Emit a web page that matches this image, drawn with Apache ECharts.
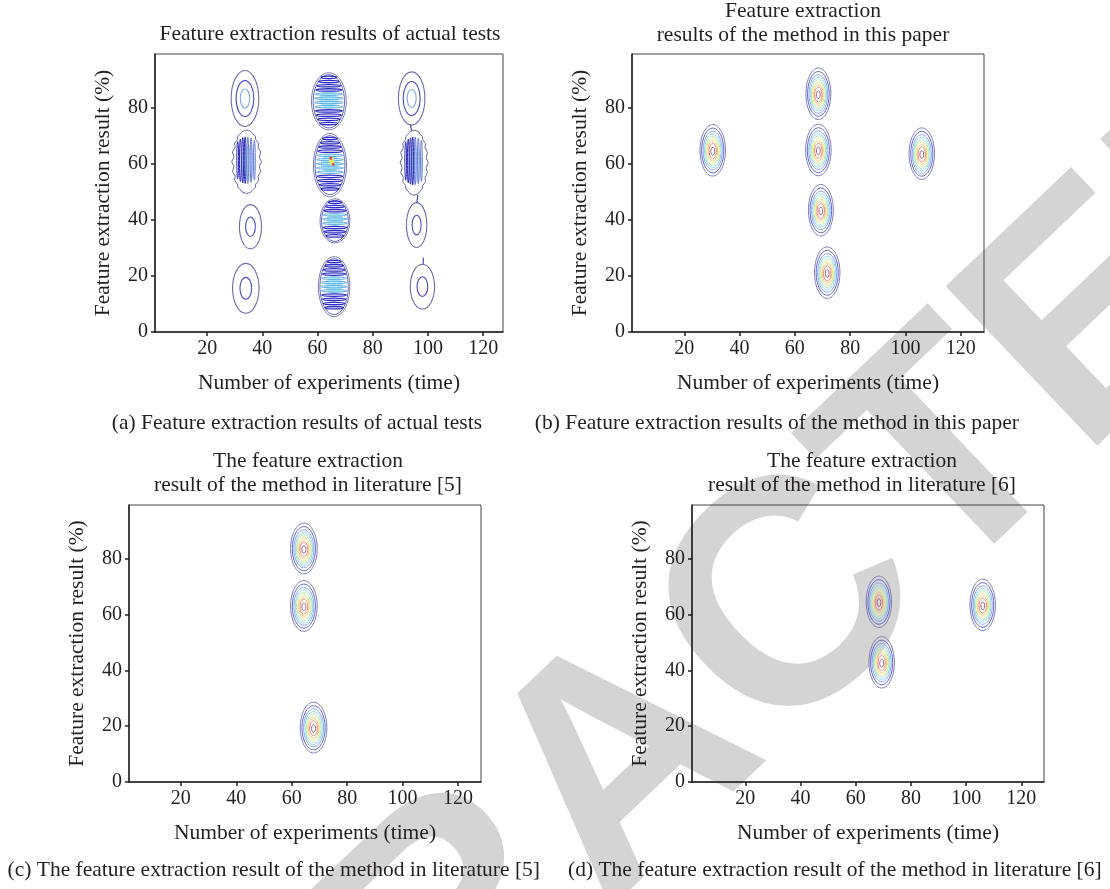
<!DOCTYPE html>
<html><head><meta charset="utf-8">
<script src="https://cdn.jsdelivr.net/npm/echarts@6/dist/echarts.min.js"></script>
<style>html,body{margin:0;padding:0;background:#fff}#c{width:1110px;height:889px}</style>
</head><body><div id="c"></div>
<script>
// ---------------- data ----------------
const xTicks = [20, 40, 60, 80, 100, 120];
const yTicks = [0, 20, 40, 60, 80];
const xName = 'Number of experiments (time)';
const yName = 'Feature extraction result (%)';
const panelTitles = [
  ['Feature extraction results of actual tests'],
  ['Feature extraction', 'results of the method in this paper'],
  ['The feature extraction', 'result of the method in literature [5]'],
  ['The feature extraction', 'result of the method in literature [6]']
];
const captions = [
  '(a) Feature extraction results of actual tests',
  '(b) Feature extraction results of the method in this paper',
  '(c) The feature extraction result of the method in literature [5]',
  '(d) The feature extraction result of the method in literature [6]'
];
const watermark = 'RETRACTED';

// Panel (a): [x, y, outer half-width, outer half-height, ring count]
const ringPeaksA = [
  [33.7, 83.4, 5.0, 10.0, 3], [35.7, 37.6, 4.0, 7.9, 2], [34.0, 15.6, 4.8, 8.9, 2],
  [94.1, 83.4, 4.8, 9.5, 3], [95.9, 38.2, 3.7, 8.0, 2], [98.0, 16.2, 4.4, 8.0, 2]
];
// Panel (a): noisy vertical-streak blobs [x, y, half-width, half-height]
const streakPeaksA = [[34.3, 60.8, 5.4, 11.3], [95.0, 60.5, 5.1, 11.6]];
// Panel (a): banded blobs [x, y, half-width, half-height, hot core]
const bandPeaksA = [
  [64.1, 82.4, 6.3, 10.2, 0], [64.5, 59.6, 6.0, 11.3, 1],
  [66.3, 39.7, 5.4, 7.9, 0], [66.0, 16.2, 5.7, 10.7, 0]
];
// Panel (a): connecting contour necks [x1, y1, x2, y2]
const necksA = [[93.6, 74.2, 94.2, 71.6], [96.3, 49.0, 96.0, 46.0], [98.3, 24.0, 98.3, 26.6]];

// Panels (b)-(d): [x, y, outer half-width, outer half-height]
const peaksB = [[30.3, 64.9, 4.6, 9.2], [68.5, 85.1, 4.5, 9.2], [68.5, 65.0, 4.6, 9.2],
                [69.4, 43.5, 4.5, 9.2], [71.7, 21.2, 4.6, 9.2], [105.9, 63.7, 4.6, 9.2]];
const peaksC = [[64.4, 83.7, 4.8, 9.1], [64.4, 63.1, 4.8, 9.1], [67.9, 19.5, 4.8, 9.1]];
const peaksD = [[68.4, 64.6, 4.6, 9.2], [69.4, 42.9, 4.6, 9.2], [106.0, 63.5, 4.6, 9.2]];
const contourLevels = [1, 0.87, 0.75, 0.65, 0.56, 0.47, 0.38, 0.29, 0.15];

// ---------------- styles / layout ----------------
const FONT = "'Liberation Serif', 'Times New Roman', serif";
const TXT = '#231f20';
const FS = 20;      // tick labels
const FT = 21.5;    // titles, axis names, captions
const RING_COLORS = ['#7c7cba', '#6666d2', '#8aaaea', '#90d8ee', '#b4eabc', '#ecec84', '#f2c87e', '#e88676', '#9c6484'];
const A_COLORS = ['#6c6ca6', '#4c4cc4', '#7ca8e2'];
const grids = [
  {left: 155, top: 54, width: 348, height: 278},
  {left: 632, top: 54, width: 352, height: 278},
  {left: 129, top: 505, width: 352, height: 277},
  {left: 692, top: 505, width: 352, height: 277}
];
const xMin = [1.1, 1.1, 1.3, 0.7], xMax = [127.2, 128.4, 128.3, 128.2];
const yMax = 99.3;

function ell(cx, cy, rx, ry, stroke, lw, fill) {
  return {type: 'ellipse', shape: {cx: cx, cy: cy, rx: Math.max(rx, 0.5), ry: Math.max(ry, 0.5)},
          style: {fill: fill || 'none', stroke: stroke || 'none', lineWidth: lw || 1}};
}
function renderRings(params, api) {
  const c = api.coord([api.value(0), api.value(1)]);
  const s = api.size([api.value(2), api.value(3)]);
  return {type: 'group', children: contourLevels.map((k, i) =>
    ell(c[0], c[1] + s[1] * 0.04 * (1 - k), s[0] * k, s[1] * k, RING_COLORS[i], 1))};
}
function renderRingsA(params, api) {
  const c = api.coord([api.value(0), api.value(1)]);
  const s = api.size([api.value(2), api.value(3)]);
  const n = api.value(4);
  const ratios = n === 3 ? [1, 0.64, 0.34] : [1, 0.44];
  return {type: 'group', children: ratios.map((k, i) =>
    ell(c[0], c[1], s[0] * k, s[1] * k, A_COLORS[i], 1.1))};
}
function renderStreak(params, api) {
  const c = api.coord([api.value(0), api.value(1)]);
  const s = api.size([api.value(2), api.value(3)]);
  const rx = s[0], ry = s[1];
  const ch = [];
  const pts = [];
  const N = 40;
  for (let k = 0; k < N; k++) {
    const a = 2 * Math.PI * k / N;
    const f = (k % 2) ? 0.86 : 1.0;
    pts.push([c[0] + rx * f * Math.cos(a), c[1] + ry * Math.sin(a)]);
  }
  ch.push({type: 'polygon', shape: {points: pts}, style: {fill: 'none', stroke: '#6a6aa8', lineWidth: 1}});
  ch.push(ell(c[0] + rx * 0.1, c[1] + ry * 0.05, rx * 0.5, ry * 0.55, null, 0, '#c4eef6'));
  const offs = [-0.6, -0.42, -0.26, -0.1, 0.08, 0.3, 0.52];
  offs.forEach((o, i) => {
    const h = ry * 0.74 * Math.sqrt(1 - o * o);
    ch.push(ell(c[0] + o * rx, c[1] - ry * 0.05, rx * 0.06, h, i < 4 ? '#2a2ab8' : '#6a7ad4', 1));
  });
  return {type: 'group', children: ch};
}
function renderBand(params, api) {
  const c = api.coord([api.value(0), api.value(1)]);
  const s = api.size([api.value(2), api.value(3)]);
  const rx = s[0], ry = s[1];
  const ch = [];
  ch.push(ell(c[0], c[1], rx, ry, '#7878b4', 1));
  ch.push(ell(c[0], c[1], rx * 0.9, ry * 0.93, '#6262c4', 1));
  ch.push(ell(c[0], c[1] - ry * 0.05, rx * 0.55, ry * 0.3, null, 0, '#b4ecf4'));
  for (let dy = -ry * 0.84; dy <= ry * 0.84; dy += 4.2) {
    const t = dy / ry;
    const w = rx * 0.82 * Math.sqrt(1 - t * t);
    const core = Math.abs(t + 0.05) < 0.28;
    ch.push({type: 'ellipse', shape: {cx: c[0], cy: c[1] + dy, rx: w, ry: 1.2},
             style: {fill: 'none', stroke: core ? '#5aa8e6' : '#2828c4', lineWidth: core ? 1 : 1.3}});
  }
  if (api.value(4)) {
    ch.push(ell(c[0] + rx * 0.1, c[1] - ry * 0.12, rx * 0.18, ry * 0.12, null, 0, '#e6e070'));
    ch.push(ell(c[0] + rx * 0.05, c[1] - ry * 0.22, 1.6, 1.6, null, 0, '#e05a3a'));
    ch.push(ell(c[0] + rx * 0.2, c[1] - ry * 0.02, 1.4, 1.4, null, 0, '#e05a3a'));
  }
  return {type: 'group', children: ch};
}
function renderNeck(params, api) {
  const p1 = api.coord([api.value(0), api.value(1)]);
  const p2 = api.coord([api.value(2), api.value(3)]);
  return {type: 'line', shape: {x1: p1[0], y1: p1[1], x2: p2[0], y2: p2[1]},
          style: {stroke: '#5050b8', lineWidth: 1.2}};
}

const xAxes = grids.map((g, i) => ({
  gridIndex: i, type: 'value', min: xMin[i], max: xMax[i],
  axisLine: {show: true, onZero: false, lineStyle: {color: TXT, width: 1.5}},
  axisTick: {show: true, customValues: xTicks, length: 4, lineStyle: {color: TXT, width: 1.5}},
  axisLabel: {customValues: xTicks, margin: 7, fontFamily: FONT, fontSize: FS, color: TXT},
  splitLine: {show: false},
  name: xName, nameLocation: 'middle', nameGap: 40,
  nameTextStyle: {fontFamily: FONT, fontSize: FT, color: TXT}
}));
const yAxes = grids.map((g, i) => ({
  gridIndex: i, type: 'value', min: 0, max: yMax,
  axisLine: {show: true, onZero: false, lineStyle: {color: TXT, width: 1.5}},
  axisTick: {show: true, customValues: yTicks, length: 4, lineStyle: {color: TXT, width: 1.5}},
  axisLabel: {customValues: yTicks, margin: 7, fontFamily: FONT, fontSize: FS, color: TXT},
  splitLine: {show: false},
  name: yName, nameLocation: 'middle', nameGap: 41, nameRotate: 90,
  nameTextStyle: {fontFamily: FONT, fontSize: FT, color: TXT}
}));

function custom(idx, data, fn, z) {
  return {type: 'custom', coordinateSystem: 'cartesian2d', xAxisIndex: idx, yAxisIndex: idx,
          data: data, renderItem: fn, silent: true, animation: false, z: z || 2};
}
const series = [
  custom(0, ringPeaksA, renderRingsA),
  custom(0, necksA, renderNeck),
  custom(0, streakPeaksA, renderStreak),
  custom(0, bandPeaksA, renderBand),
  custom(1, peaksB, renderRings),
  custom(2, peaksC, renderRings),
  custom(3, peaksD, renderRings)
];

// text blocks
const graphics = [];
graphics.push({type: 'text', x: 628, y: 770, rotation: 0.76, z: -10, silent: true,
  style: {text: watermark, align: 'center', verticalAlign: 'middle', textAlign: 'center', textVerticalAlign: 'middle',
          fontSize: 320, fontWeight: 'bold', fontFamily: "'Liberation Sans', Arial, sans-serif", fill: '#d4d4d4'}});
function addText(str, x, y, align) {
  graphics.push({type: 'text', x: x, y: y, silent: true, z: 5,
    style: {text: str, align: align, verticalAlign: 'middle', textAlign: align, textVerticalAlign: 'middle',
            fontSize: FT, fontFamily: FONT, fill: TXT}});
}
const titleX = [330, 803, 308, 862];
const titleY = [[34], [11, 35], [461, 485], [461, 485]];
panelTitles.forEach((lines, i) => lines.forEach((l, j) => addText(l, titleX[i], titleY[i][j], 'center')));
const capX = [482, 1019, 540, 568], capY = [423, 423, 870, 870], capAlign = ['right', 'right', 'right', 'left'];
captions.forEach((c, i) => addText(c, capX[i], capY[i], capAlign[i]));

const chart = echarts.init(document.getElementById('c'), null, {renderer: 'canvas'});
chart.setOption({
  animation: false,
  backgroundColor: '#ffffff',
  grid: grids.map(g => Object.assign({show: true, borderColor: '#444', borderWidth: 1, backgroundColor: 'transparent'}, g)),
  xAxis: xAxes,
  yAxis: yAxes,
  series: series,
  graphic: {elements: graphics}
});
</script></body></html>
